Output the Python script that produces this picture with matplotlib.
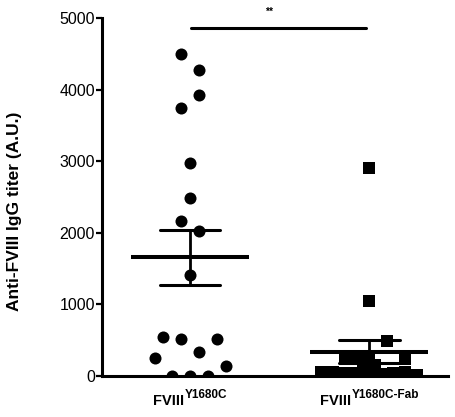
import numpy as np
import matplotlib
matplotlib.use("Agg")
import matplotlib.pyplot as plt

plt.rcParams['font.family'] = ['Liberation Sans', 'DejaVu Sans']

groups = ['FVIII', 'FVIII']
group_sup = ['Y1680C', 'Y1680C-Fab']

# anti-FVIII IgG titers (A.U.)
wt = [4500, 4270, 3920, 3740, 2975, 2480, 2160, 2030, 1410,
      545, 517, 517, 340, 256, 140, 0, 0, 0]
fab = [2900, 1050, 490, 270, 260, 250, 240, 170, 160,
       60, 50, 40, 40, 30, 30, 40, 50, 20]

# horizontal spread of the scatter (px)
wt_dx = [-9, 9, 9, -9, 0, 0, -9, 9, 0, -27, -9, 27, 9, -35, 36, -18, 0, 18]
fab_dx = [0, 0, 18, -24, -12, 0, 36, -6, 6, -48, -36, -24, -12, 0, 12, 24, 36, 48]

px = 1 / 179.0

fig = plt.figure(figsize=(4.56, 4.17), dpi=100)
ax = fig.add_axes([0.2237, 0.0983, 0.7588, 0.8585])

ax.scatter(np.array(wt_dx) * px + 0, wt, s=75, marker='o', color='black', zorder=3, linewidths=0)
ax.scatter(np.array(fab_dx) * px + 1, fab, s=75, marker='s', color='black', zorder=3, linewidths=0)

for i, vals in enumerate([wt, fab]):
    v = np.array(vals, dtype=float)
    m = v.mean()
    sem = v.std(ddof=1) / np.sqrt(len(v))
    ax.plot([i - 0.33, i + 0.33], [m, m], color='black', lw=2.9, zorder=4, solid_capstyle='butt')
    ax.plot([i, i], [m - sem, m + sem], color='black', lw=2.0, zorder=4)
    ax.plot([i - 0.17, i + 0.17], [m + sem, m + sem], color='black', lw=2.2, zorder=4, solid_capstyle='round')
    ax.plot([i - 0.17, i + 0.17], [m - sem, m - sem], color='black', lw=2.2, zorder=4, solid_capstyle='round')

# significance bar
ax.plot([0.005, 0.985], [4860, 4860], color='black', lw=2.2, clip_on=False, solid_capstyle='round')
ax.text(0.44, 5010, '**', ha='center', va='bottom', fontsize=7.5, fontweight='bold')

ax.set_xlim(-0.4916, 1.441)
ax.set_ylim(0, 5000)
ax.set_yticks([0, 1000, 2000, 3000, 4000, 5000])
ax.set_xticks([])

ax.spines['top'].set_visible(False)
ax.spines['right'].set_visible(False)
ax.spines['left'].set_linewidth(2.2)
ax.spines['bottom'].set_linewidth(2.2)
ax.tick_params(axis='y', length=4, width=1.6, labelsize=11.5, pad=1)
ax.set_ylabel('Anti-FVIII IgG titer (A.U.)', fontsize=12.5, fontweight='bold')
ax.yaxis.set_label_coords(-0.232, 0.46)

# group labels with superscripts, centred under each column
renderer = fig.canvas.get_renderer()
for i in range(len(groups)):
    t1 = ax.annotate(groups[i], xy=(i, 0), xycoords=('data', 'axes fraction'),
                     xytext=(0, -13), textcoords='offset points',
                     ha='left', va='top', fontsize=10.5, fontweight='bold')
    t2 = ax.annotate(group_sup[i], xy=(i, 0), xycoords=('data', 'axes fraction'),
                     xytext=(0, -9.5), textcoords='offset points',
                     ha='left', va='top', fontsize=8.5, fontweight='bold')
    w1 = t1.get_window_extent(renderer).width * 72 / fig.dpi
    w2 = t2.get_window_extent(renderer).width * 72 / fig.dpi
    start = -(w1 + w2) / 2
    t1.set_position((start, -13))
    t2.set_position((start + w1 + 0.5, -9.5))

fig.savefig('out.png', dpi=100)
